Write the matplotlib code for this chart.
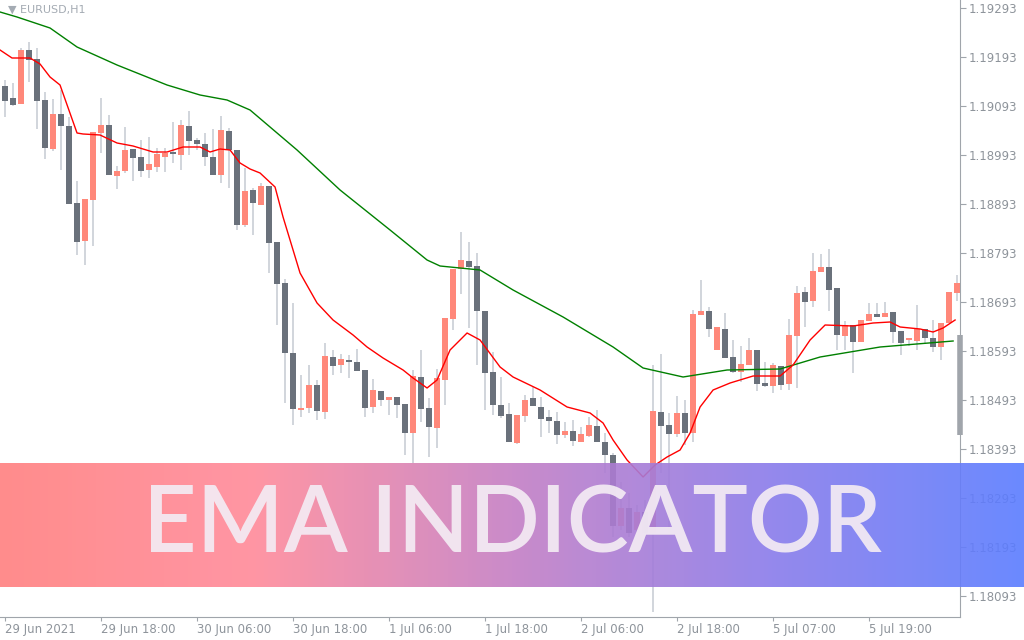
import matplotlib
matplotlib.use("Agg")
import matplotlib.pyplot as plt
import numpy as np
from matplotlib.colors import LinearSegmentedColormap

# Chart readings: price grid is 1.19293 at reading 8, one 0.001 step per 49 units
TOP_PRICE = 1.19293
UNIT = 0.001 / 49


def to_price(r):
    return TOP_PRICE - (np.asarray(r, float) - 8) * UNIT


open_r = [86, 98, 104, 50, 59, 100, 149, 114, 126, 203, 241, 200, 133, 125, 176, 171, 149, 157, 170, 167,
          157, 152, 155, 126, 140, 144, 157, 175, 131, 150, 225, 190, 205, 186, 242, 283, 353, 410, 408, 385,
          412, 357, 365, 360, 362, 370, 407, 391, 400, 397, 404, 433, 377, 408, 428, 380, 319, 269, 261, 266,
          311, 372, 405, 414, 443, 416, 398, 407, 417, 421, 435, 431, 442, 436, 426, 442, 455, 526, 508, 530,
          512, 533, 412, 425, 434, 413, 433, 315, 311, 350, 329, 357, 372, 365, 350, 383, 386, 366, 384, 336,
          292, 301, 272, 267, 288, 336, 325, 342, 321, 314, 317, 312, 331, 340, 341, 329, 338, 347, 323, 293]
close_r = [101, 105, 50, 60, 101, 148, 114, 126, 204, 242, 199, 132, 125, 175, 171, 150, 158, 171, 164, 154,
           153, 154, 125, 141, 144, 157, 175, 130, 150, 225, 191, 203, 186, 243, 284, 353, 409, 408, 385, 411,
           356, 366, 359, 362, 371, 408, 390, 400, 397, 405, 433, 376, 409, 427, 378, 318, 269, 260, 267, 311,
           373, 405, 416, 442, 415, 400, 406, 419, 421, 435, 431, 441, 434, 425, 442, 455, 526, 508, 533, 512,
           533, 411, 426, 434, 413, 433, 314, 311, 329, 327, 358, 372, 364, 350, 384, 386, 365, 385, 335, 293,
           302, 271, 267, 290, 335, 325, 342, 320, 314, 317, 313, 332, 343, 338, 329, 338, 347, 323, 292, 283]
high_r = [80, 83, 48, 42, 48, 92, 99, 90, 117, 181, 199, 132, 98, 115, 166, 127, 149, 140, 137, 148,
          148, 122, 120, 111, 138, 133, 129, 116, 128, 150, 168, 188, 183, 186, 242, 279, 303, 375, 365, 380,
          343, 350, 354, 355, 349, 370, 379, 391, 397, 397, 404, 370, 350, 398, 369, 318, 269, 232, 242, 253,
          311, 352, 377, 403, 415, 395, 387, 397, 410, 412, 422, 420, 427, 417, 410, 433, 453, 482, 493, 505,
          500, 365, 354, 413, 396, 400, 310, 280, 307, 327, 313, 340, 346, 338, 350, 362, 363, 366, 319, 286,
          287, 253, 254, 249, 288, 321, 325, 320, 303, 303, 302, 312, 331, 338, 305, 329, 320, 323, 292, 275]
low_r = [117, 106, 104, 82, 129, 159, 151, 170, 204, 255, 265, 246, 153, 175, 189, 173, 181, 177, 178, 172,
         172, 163, 170, 155, 150, 166, 175, 183, 188, 230, 227, 235, 205, 273, 325, 403, 425, 417, 413, 420,
         419, 375, 373, 378, 371, 417, 413, 406, 415, 418, 455, 463, 422, 457, 448, 405, 330, 294, 328, 365,
         410, 415, 418, 442, 444, 422, 406, 437, 433, 444, 438, 446, 442, 437, 442, 473, 537, 530, 537, 535,
         538, 612, 473, 533, 437, 445, 442, 315, 337, 350, 358, 373, 382, 365, 391, 387, 393, 390, 390, 388,
         327, 307, 272, 311, 350, 350, 373, 342, 321, 317, 317, 343, 355, 346, 350, 344, 352, 360, 323, 301]

# EMA line readings (horizontal reading, vertical reading); one candle per 8 units from 4.7
ema_slow_x = [0, 17, 50, 77, 117, 167, 200, 227, 250, 297, 340, 390, 427, 440, 480, 513, 563, 613, 643,
              683, 727, 780, 820, 880, 953]
ema_slow_y = [12, 17, 28, 47, 65, 85, 95, 100, 110, 150, 190, 230, 260, 266, 270, 290, 317, 347, 368,
              377, 370, 369, 357, 347, 341]
ema_fast_x = [0, 12, 30, 40, 50, 60, 77, 83, 100, 117, 133, 153, 167, 183, 200, 210, 220, 230, 240, 250,
              260, 275, 283, 300, 317, 333, 353, 367, 383, 403, 413, 427, 437, 450, 467, 480, 500, 513, 540,
              567, 590, 603, 613, 627, 643, 655, 667, 680, 690, 700, 713, 730, 753, 780, 793, 810, 825, 853,
              873, 890, 900, 920, 933, 943, 955]
ema_fast_y = [50, 58, 58, 64, 77, 85, 133, 134, 135, 143, 146, 152, 152, 147, 147, 152, 149, 150, 163, 169,
              173, 187, 217, 273, 303, 320, 335, 347, 358, 370, 378, 388, 380, 350, 333, 340, 367, 377, 390,
              407, 413, 423, 440, 460, 477, 465, 457, 450, 433, 407, 390, 383, 376, 376, 365, 340, 325, 326,
              323, 322, 327, 329, 332, 328, 320]

price_ticks = [1.19293 - 0.001 * k for k in range(13)]
time_idx = [0, 12, 24, 36, 48, 60, 72, 84, 96, 108]
time_labels = ["29 Jun 2021", "29 Jun 18:00", "30 Jun 06:00", "30 Jun 18:00", "1 Jul 06:00",
               "1 Jul 18:00", "2 Jul 06:00", "2 Jul 18:00", "5 Jul 07:00", "5 Jul 19:00"]

BULL = "#FF887A"
BEAR = "#6A717B"
WICK = "#C9CED5"
AXIS = "#A0A5AB"
TXT = "#8E949B"

o, c, h, l = to_price(open_r), to_price(close_r), to_price(high_r), to_price(low_r)
idx = np.arange(len(o))

fig = plt.figure(figsize=(10.24, 6.4), dpi=100, facecolor="white")
ax = fig.add_axes([0.0, 23 / 640, 960 / 1024, 617 / 640])
ax.set_xlim(-0.59, 119.4)
ax.set_ylim(to_price(617), to_price(0))

ax.vlines(idx, l, h, color=WICK, linewidth=1.2, zorder=1)
colors = [BULL if cc > oo else BEAR for oo, cc in zip(o, c)]
bottoms = np.minimum(o, c)
heights = np.maximum(np.abs(c - o), 0.000015)
ax.bar(idx, heights, bottom=bottoms, width=0.72, color=colors, linewidth=0, zorder=2)

ax.plot((np.array(ema_slow_x) - 4.7) / 8, to_price(ema_slow_y), color="#008000", lw=1.0, zorder=3)
ax.plot((np.array(ema_fast_x) - 4.7) / 8, to_price(ema_fast_y), color="#FF0000", lw=1.0, zorder=3)

for s in ["top", "left"]:
    ax.spines[s].set_visible(False)
ax.spines["right"].set_color(AXIS)
ax.spines["bottom"].set_color(AXIS)
ax.yaxis.tick_right()
ax.set_yticks(price_ticks)
ax.set_yticklabels([f"{p:.5f}" for p in price_ticks])
ax.set_xticks(time_idx)
ax.set_xticklabels(time_labels, ha="left")
ax.tick_params(axis="both", colors=AXIS, labelcolor=TXT, labelsize=8.5, length=4, pad=2)
ax.tick_params(axis="x", pad=1, length=3)
# current-price marker on the price scale
ax.vlines(119.4, to_price(435), to_price(335), color=AXIS, lw=4, clip_on=False, zorder=5)
ax.text(0.008, 0.992, "\u25BC EURUSD,H1", transform=ax.transAxes, ha="left", va="top",
        fontsize=8, color="#A4ABB3")

# banner
bax = fig.add_axes([0, 1 - 587 / 640, 1, 124 / 640])
cmap = LinearSegmentedColormap.from_list("banner", ["#FF7F7F", "#FF8A9A", "#C47EC4", "#8A7BEA", "#5A7DFF"])
bax.imshow(np.linspace(0, 1, 256)[None, :], aspect="auto", cmap=cmap, alpha=0.9, extent=[0, 1, 0, 1])
bax.set_xlim(0, 1)
bax.set_ylim(0, 1)
bax.axis("off")
bax.text(0.5, 0.49, "EMA INDICATOR", ha="center", va="center", fontsize=67, family="Lato",
         weight="semibold", color="#F4ECF4", alpha=0.92)

fig.savefig("out.png", dpi=100, facecolor="white")
